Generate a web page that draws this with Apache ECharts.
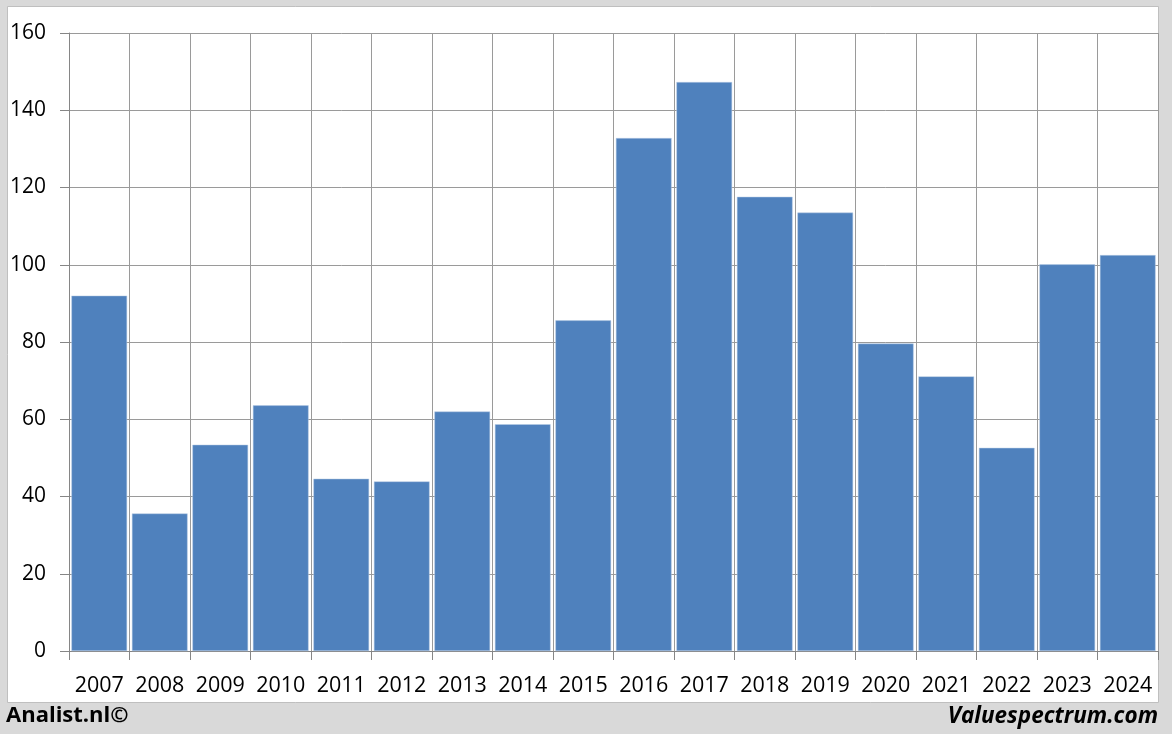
<!DOCTYPE html>
<html>
<head>
<meta charset="utf-8">
<script src="https://cdn.jsdelivr.net/npm/echarts@6/dist/echarts.min.js"></script>
<style>
html,body{margin:0;padding:0;background:#d9d9d9;}
#c{width:1172px;height:734px;}
</style>
</head>
<body>
<div id="c"></div>
<script>
const years = ['2007','2008','2009','2010','2011','2012','2013','2014','2015','2016','2017','2018','2019','2020','2021','2022','2023','2024'];
const values = [92.0, 35.6, 53.4, 63.6, 44.6, 43.9, 62.0, 58.7, 85.6, 132.8, 147.3, 117.6, 113.5, 79.6, 71.1, 52.6, 100.1, 102.5];
const yTicks = { min: 0, max: 160, interval: 20 };
const leftNote = 'Analist.nl©';
const rightNote = 'Valuespectrum.com';

const chart = echarts.init(document.getElementById('c'), null, {renderer: 'canvas'});
const font = 'Open Sans';
chart.setOption({
  backgroundColor: '#d9d9d9',
  animation: false,
  graphic: [
    { type: 'rect', z: -10, shape: { x: 7.5, y: 6.5, width: 1151, height: 696 },
      style: { fill: '#ffffff', stroke: '#bfbfbf', lineWidth: 1 } },
    { type: 'text', left: 6, top: 705,
      style: { text: leftNote, font: 'bold 22px "Open Sans"', fill: '#000' } },
    { type: 'text', right: 14, top: 705,
      style: { text: rightNote, font: 'italic bold 22.5px "Open Sans"', fill: '#000' } }
  ],
  grid: { left: 69, right: 14, top: 33, bottom: 83, containLabel: false },
  xAxis: {
    type: 'category',
    data: years,
    boundaryGap: true,
    axisLine: { lineStyle: { color: '#868686', width: 1 } },
    axisTick: { show: true, length: 9, alignWithLabel: false, lineStyle: { color: '#868686' } },
    splitLine: { show: true, lineStyle: { color: '#9a9a9a', width: 1 } },
    axisLabel: { color: '#000', fontSize: 21.5, fontFamily: font, margin: 24, interval: 0 }
  },
  yAxis: {
    type: 'value',
    min: yTicks.min, max: yTicks.max, interval: yTicks.interval,
    axisLine: { show: true, lineStyle: { color: '#868686', width: 1 } },
    axisTick: { show: true, length: 9, lineStyle: { color: '#868686' } },
    splitLine: { show: true, lineStyle: { color: '#9a9a9a', width: 1 } },
    axisLabel: { color: '#000', fontSize: 21, fontFamily: font, margin: 23 }
  },
  series: [{
    type: 'bar',
    data: values,
    barCategoryGap: '8%',
    itemStyle: { color: '#4f81bd', borderColor: '#b9cde5', borderWidth: 0.5 }
  }]
});
</script>
</body>
</html>
